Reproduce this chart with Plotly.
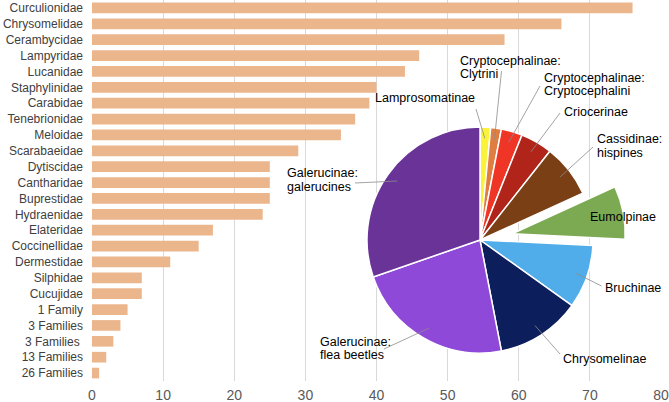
import math
import plotly.graph_objects as go

# ---- bar data ----
families = ["Curculionidae", "Chrysomelidae", "Cerambycidae", "Lampyridae", "Lucanidae",
            "Staphylinidae", "Carabidae", "Tenebrionidae", "Meloidae", "Scarabaeidae",
            "Dytiscidae", "Cantharidae", "Buprestidae", "Hydraenidae", "Elateridae",
            "Coccinellidae", "Dermestidae", "Silphidae", "Cucujidae", "1 Family",
            "3 Families", "3 Families ", "13 Families", "26 Families"]
family_counts = [76, 66, 58, 46, 44, 40, 39, 37, 35, 29, 25, 25, 25, 24, 17, 15, 11, 7, 7, 5, 4, 3, 2, 1]

# ---- pie data (Chrysomelidae subfamilies) ----
subfamilies = ["Lamprosomatinae", "Cryptocephalinae: Clytrini", "Cryptocephalinae: Cryptocephalini",
               "Criocerinae", "Cassidinae: hispines", "Eumolpinae", "Bruchinae", "Chrysomelinae",
               "Galerucinae: flea beetles", "Galerucinae: galerucines"]
sub_counts = [1, 1, 2, 3, 5, 5, 6, 8, 15, 20]
sub_colors = ["#FAF33A", "#E07D40", "#EE3526", "#B0241A", "#7B3F16", "#7CAA52",
              "#50ADEA", "#0C1E5B", "#8F49D8", "#6A3397"]
sub_pull = [0, 0, 0, 0, 0, 0.29, 0, 0, 0, 0]

W, H = 669, 402
ML, MR = 92, 8
PW = W - ML - MR
FONT = "Liberation Sans, Arial, sans-serif"

def px(x, y):
    return (x - ML) / PW, (H - y) / H

fig = go.Figure()
fig.add_trace(go.Bar(
    y=families, x=family_counts, orientation="h",
    marker=dict(color="#ECB68C", line=dict(width=0)),
    showlegend=False, hoverinfo="x+y",
))

# pie geometry
cx, cy, r, maxpull = 480.0, 240.0, 113.0, max(sub_pull)
half = r * (1 + maxpull)
x0, _ = px(cx - half, 0)
x1, _ = px(cx + half, 0)
_, y0 = px(0, cy + half)
_, y1 = px(0, cy - half)
fig.add_trace(go.Pie(
    labels=subfamilies, values=sub_counts, sort=False, direction="clockwise", rotation=0,
    marker=dict(colors=sub_colors, line=dict(color="white", width=1.5)),
    pull=sub_pull, textinfo="none", showlegend=False,
    domain=dict(x=[x0, x1], y=[y0, y1]),
))

# label layout: (lines, anchor, x, first-line y, leader outer end or None)
label_layout = [
    (["Lamprosomatinae"], "right", 477, 98, (476, 109)),
    (["Cryptocephalinae:", "Clytrini"], "left", 457.5, 61, (501.5, 71)),
    (["Cryptocephalinae:", "Cryptocephalini"], "left", 542, 77.5, (540, 86)),
    (["Criocerinae"], "left", 562, 112.5, (560, 113)),
    (["Cassidinae:", "hispines"], "left", 594.5, 139.5, (593, 147)),
    (["Eumolpinae"], "left", 587.5, 216.5, None),
    (["Bruchinae"], "left", 603, 287.5, (601.5, 286)),
    (["Chrysomelinae"], "left", 560.5, 359, (560, 354)),
    (["Galerucinae:", "flea beetles"], "left", 318, 341.5, (384, 349)),
    (["Galerucinae:", "galerucines"], "left", 285, 173, (355, 183)),
]

total = sum(sub_counts)
cum = 0
annotations = []
shapes = []
for val, (lines, anchor, lx, ly, outer) in zip(sub_counts, label_layout):
    mid = (cum + val / 2) / total * 2 * math.pi
    cum += val
    for i, t in enumerate(lines):
        ax_, ay_ = px(lx, ly + i * 13.5)
        annotations.append(dict(text=t, x=ax_, y=ay_, xref="paper", yref="paper",
                                xanchor=anchor, yanchor="middle", showarrow=False,
                                font=dict(family=FONT, size=12.5, color="#000000")))
    if outer is not None:
        ix = cx + 0.9 * r * math.sin(mid)
        iy = cy - 0.9 * r * math.cos(mid)
        ox, oy = px(*outer)
        qx, qy = px(ix, iy)
        shapes.append(dict(type="line", xref="paper", yref="paper", x0=ox, y0=oy, x1=qx, y1=qy,
                           line=dict(color="#8c8c8c", width=0.8)))

fig.update_layout(
    width=W, height=H,
    margin=dict(l=ML, r=MR, t=0, b=0, pad=0),
    paper_bgcolor="white", plot_bgcolor="white",
    bargap=0.33,
    font=dict(family=FONT, color="#595959"),
    xaxis=dict(range=[0, 80], dtick=10, showgrid=True, gridcolor="#d9d9d9", gridwidth=1,
               zeroline=False, showline=False, ticks="", tickfont=dict(size=14, color="#595959"),
               ticklabelstandoff=4, fixedrange=True),
    yaxis=dict(domain=[(H - 381) / H, 1], autorange="reversed", showgrid=False, ticks="",
               tickfont=dict(size=12, color="#404040"), ticklabelstandoff=8, fixedrange=True),
    annotations=annotations,
    shapes=shapes,
)

fig.write_html("out.html")
